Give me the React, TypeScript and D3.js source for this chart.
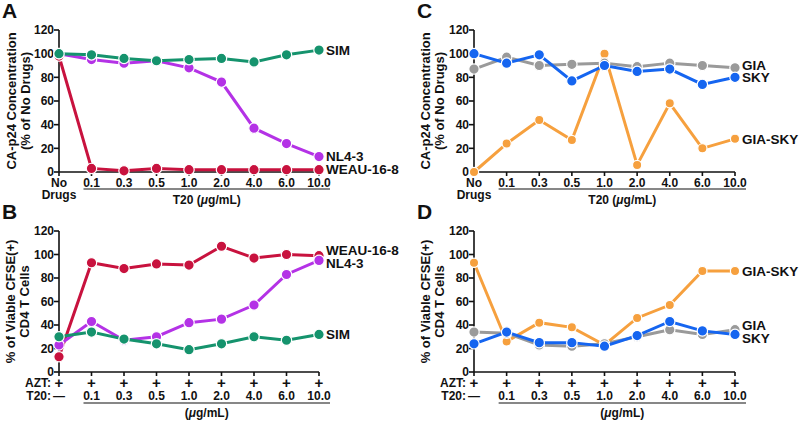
import React from "react";
import * as d3 from "d3";

const categories = ["No", "0.1", "0.3", "0.5", "1.0", "2.0", "4.0", "6.0", "10.0"];
const t20Labels = ["—", "0.1", "0.3", "0.5", "1.0", "2.0", "4.0", "6.0", "10.0"];
const yTicks = [0, 20, 40, 60, 80, 100, 120];

const aSIM = [100, 99, 96, 94, 95, 96, 93, 99, 103];
const aNL43 = [100, 95, 92, 94, 88, 76, 37, 24, 13];
const aWEAU = [98, 3, 1, 3, 2, 2, 2, 2, 2];

const bWEAU = [13, 93, 88, 92, 91, 107, 97, 100, 99];
const bNL43 = [23, 43, 27, 30, 42, 45, 57, 83, 95];
const bSIM = [30, 34, 28, 24, 19, 24, 30, 27, 32];

const cGIASKY = [0, 24, 44, 27, 100, 6, 58, 20, 28];
const cGIA = [87, 97, 90, 91, 92, 89, 92, 90, 88];
const cSKY = [100, 92, 99, 77, 90, 85, 87, 74, 80];

const dGIASKY = [93, 26, 42, 38, 23, 46, 57, 86, 86];
const dGIA = [34, 33, 23, 22, 24, 30, 36, 32, 36];
const dSKY = [24, 34, 25, 25, 22, 31, 43, 35, 32];

const GREEN = "#15936d";
const PURPLE = "#b432e6";
const RED = "#c8123e";
const BLUE = "#1565f0";
const GRAY = "#9a9a9a";
const ORANGE = "#f6a03e";

const FONT = "'Liberation Sans', Arial, Helvetica, sans-serif";

type Series = { name: string; values: number[]; color: string; r?: number; dy?: number };

type PanelProps = {
  letter: string;
  x0: number;
  x1: number;
  yBottom: number;
  yTop: number;
  titleLines: string[];
  titleX: number[];
  series: Series[];
  mode: "p24" | "cfse";
};

function Panel({ letter, x0, x1, yBottom, yTop, titleLines, titleX, series, mode }: PanelProps) {
  const x = d3.scalePoint<string>().domain(categories).range([x0, x1]);
  const y = d3.scaleLinear().domain([0, 120]).range([yBottom, yTop]);
  const line = d3
    .line<number>()
    .x((_, i) => x(categories[i]) as number)
    .y((d) => y(d));
  const cy = (yBottom + yTop) / 2;
  const underX0 = (x(categories[1]) as number) - 8;
  const underX1 = x1 + 11;
  const midX = (underX0 + underX1) / 2;
  return (
    <g fontFamily={FONT} fontWeight="bold" fill="#111">
      <text x={x0 - 57} y={yTop - 12} fontSize={21}>
        {letter}
      </text>
      {titleLines.map((t, i) => (
        <text
          key={i}
          transform={`translate(${titleX[i]},${cy}) rotate(-90)`}
          textAnchor="middle"
          fontSize={13}
          dominantBaseline="central"
        >
          {t}
        </text>
      ))}
      {/* y axis */}
      <line x1={x0} x2={x0} y1={yTop} y2={yBottom} stroke="#111" strokeWidth={1.6} />
      {yTicks.map((t) => (
        <g key={t}>
          <line x1={x0 - 5} x2={x0} y1={y(t)} y2={y(t)} stroke="#111" strokeWidth={1.6} />
          <text x={x0 - 5} y={y(t)} dy="0.35em" textAnchor="end" fontSize={12}>
            {t}
          </text>
        </g>
      ))}
      {/* x axis */}
      <line x1={x0} x2={x1} y1={yBottom} y2={yBottom} stroke="#111" strokeWidth={1.6} />
      {categories.map((c) => (
        <line
          key={c}
          x1={x(c) as number}
          x2={x(c) as number}
          y1={yBottom}
          y2={yBottom + 4}
          stroke="#111"
          strokeWidth={1.6}
        />
      ))}
      {mode === "p24" ? (
        <g>
          {categories.map((c, i) => (
            <text key={c} x={x(c) as number} y={yBottom + 15} textAnchor="middle" fontSize={12}>
              {i === 0 ? "No" : c}
            </text>
          ))}
          <text x={x0} y={yBottom + 27} textAnchor="middle" fontSize={12}>
            Drugs
          </text>
          <line x1={underX0} x2={underX1} y1={yBottom + 17} y2={yBottom + 17} stroke="#111" strokeWidth={1.2} />
          <text x={midX} y={yBottom + 32} textAnchor="middle" fontSize={12}>
            T20 (
            <tspan fontStyle="italic">μ</tspan>
            g/mL)
          </text>
        </g>
      ) : (
        <g>
          <text x={x0 - 8} y={yBottom + 15} textAnchor="end" fontSize={12}>
            AZT:
          </text>
          <text x={x0 - 8} y={yBottom + 28} textAnchor="end" fontSize={12}>
            T20:
          </text>
          {categories.map((c) => (
            <text key={c} x={x(c) as number} y={yBottom + 16} textAnchor="middle" fontSize={15}>
              +
            </text>
          ))}
          {t20Labels.map((t, i) => (
            <text key={i} x={x(categories[i]) as number} y={yBottom + 28} textAnchor="middle" fontSize={12}>
              {t}
            </text>
          ))}
          <line x1={underX0} x2={underX1} y1={yBottom + 31} y2={yBottom + 31} stroke="#111" strokeWidth={1.2} />
          <text x={midX} y={yBottom + 45} textAnchor="middle" fontSize={12}>
            (<tspan fontStyle="italic">μ</tspan>g/mL)
          </text>
        </g>
      )}
      {/* series */}
      {series.map((s) => (
        <g key={s.name}>
          <path d={line(s.values) || ""} fill="none" stroke={s.color} strokeWidth={3} />
          {s.values.map((v, i) => (
            <circle
              key={i}
              cx={x(categories[i]) as number}
              cy={y(v)}
              r={s.r ?? 5.2}
              fill={s.color}
              stroke="#fff"
              strokeWidth={1.2}
            />
          ))}
        </g>
      ))}
      {series.map((s) => (
        <text
          key={s.name + "-lbl"}
          x={x1 + 7}
          y={y(s.values[s.values.length - 1]) + (s.dy ?? 0)}
          dy="0.35em"
          fontSize={13.5}
        >
          {s.name}
        </text>
      ))}
    </g>
  );
}

export default function App() {
  return (
    <svg
      width={800}
      height={423}
      style={{ position: "fixed", left: 0, top: 0, background: "#fff" }}
    >
      <rect width={800} height={423} fill="#fff" />
      <Panel
        letter="A"
        x0={59}
        x1={319}
        yBottom={172}
        yTop={30}
        titleLines={["CA-p24 Concentration", "(% of No Drugs)"]}
        titleX={[11, 25]}
        mode="p24"
        series={[
          { name: "WEAU-16-8", values: aWEAU, color: RED },
          { name: "NL4-3", values: aNL43, color: PURPLE },
          { name: "SIM", values: aSIM, color: GREEN },
        ]}
      />
      <Panel
        letter="B"
        x0={59}
        x1={319}
        yBottom={372}
        yTop={231}
        titleLines={["% of Viable CFSE(+)", "CD4 T Cells"]}
        titleX={[10, 24]}
        mode="cfse"
        series={[
          { name: "WEAU-16-8", values: bWEAU, color: RED, dy: -5 },
          { name: "NL4-3", values: bNL43, color: PURPLE, dy: 3 },
          { name: "SIM", values: bSIM, color: GREEN },
        ]}
      />
      <Panel
        letter="C"
        x0={474}
        x1={735}
        yBottom={172}
        yTop={30}
        titleLines={["CA-p24 Concentration", "(% of No Drugs)"]}
        titleX={[425, 439]}
        mode="p24"
        series={[
          { name: "GIA-SKY", values: cGIASKY, color: ORANGE, r: 4.6 },
          { name: "GIA", values: cGIA, color: GRAY, dy: -3 },
          { name: "SKY", values: cSKY, color: BLUE, dy: 0 },
        ]}
      />
      <Panel
        letter="D"
        x0={474}
        x1={735}
        yBottom={372}
        yTop={231}
        titleLines={["% of Viable CFSE(+)", "CD4 T Cells"]}
        titleX={[425, 439]}
        mode="cfse"
        series={[
          { name: "GIA-SKY", values: dGIASKY, color: ORANGE, r: 4.6 },
          { name: "GIA", values: dGIA, color: GRAY, dy: -4 },
          { name: "SKY", values: dSKY, color: BLUE, dy: 4 },
        ]}
      />
    </svg>
  );
}
